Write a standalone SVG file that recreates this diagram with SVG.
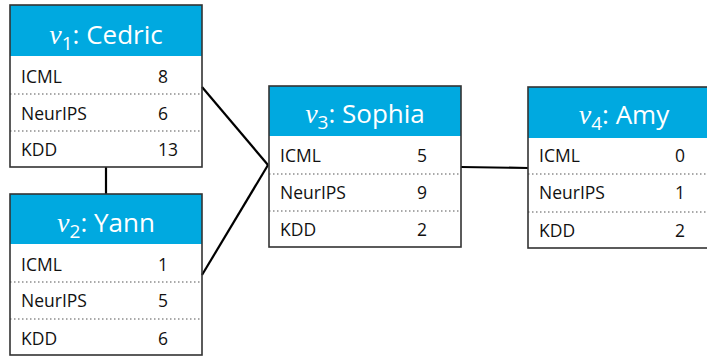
<svg xmlns="http://www.w3.org/2000/svg" width="707" height="356" viewBox="0 0 707 356">
<style>
.hdr{fill:#00A9E0}
.box{fill:none;stroke:#333;stroke-width:1.6}
.div{stroke:#555;stroke-width:1.2;stroke-dasharray:1.5 2.5}
.t{font-family:"Open Sans","Liberation Sans",sans-serif;font-size:17.5px;fill:#111}
.h{font-family:"Open Sans","Liberation Sans",sans-serif;font-size:26px;fill:#fff}
.v{font-family:"Liberation Serif",serif;font-style:italic;font-size:28px}
.edge{stroke:#000;stroke-width:2.2;fill:none}
</style>
<rect width="707" height="356" fill="#fff"/>
<g id="connectors">
<line class="edge" x1="106" y1="167" x2="106" y2="194"/>
<line class="edge" x1="202" y1="87" x2="268" y2="165"/>
<line class="edge" x1="202" y1="275" x2="268" y2="165"/>
<line class="edge" x1="461" y1="167" x2="528" y2="168"/>
</g>
<g id="v1">
<rect class="hdr" x="10" y="5" width="192" height="51"/>
<text class="h" x="106" y="44" text-anchor="middle"><tspan class="v">v</tspan><tspan dy="6" font-size="19">1</tspan><tspan dy="-6">: Cedric</tspan></text>
<line class="div" x1="10" y1="94" x2="202" y2="94"/>
<line class="div" x1="10" y1="131" x2="202" y2="131"/>
<text class="t" x="21" y="83">ICML</text><text class="t" x="158" y="83">8</text>
<text class="t" x="21" y="120">NeurIPS</text><text class="t" x="158" y="120">6</text>
<text class="t" x="21" y="156">KDD</text><text class="t" x="158" y="156">13</text>
<rect class="box" x="10" y="5" width="192" height="162"/>
</g>
<g id="v2">
<rect class="hdr" x="10" y="194" width="192" height="50"/>
<text class="h" x="106" y="232" text-anchor="middle"><tspan class="v">v</tspan><tspan dy="6" font-size="19">2</tspan><tspan dy="-6">: Yann</tspan></text>
<line class="div" x1="10" y1="282" x2="202" y2="282"/>
<line class="div" x1="10" y1="319" x2="202" y2="319"/>
<text class="t" x="21" y="271">ICML</text><text class="t" x="158" y="271">1</text>
<text class="t" x="21" y="307">NeurIPS</text><text class="t" x="158" y="307">5</text>
<text class="t" x="21" y="345">KDD</text><text class="t" x="158" y="345">6</text>
<rect class="box" x="10" y="194" width="192" height="161"/>
</g>
<g id="v3">
<rect class="hdr" x="269" y="86" width="192" height="50"/>
<text class="h" x="365" y="123" text-anchor="middle"><tspan class="v">v</tspan><tspan dy="6" font-size="19">3</tspan><tspan dy="-6">: Sophia</tspan></text>
<line class="div" x1="269" y1="174" x2="461" y2="174"/>
<line class="div" x1="269" y1="211" x2="461" y2="211"/>
<text class="t" x="280" y="162">ICML</text><text class="t" x="417" y="162">5</text>
<text class="t" x="280" y="199">NeurIPS</text><text class="t" x="417" y="199">9</text>
<text class="t" x="280" y="236">KDD</text><text class="t" x="417" y="236">2</text>
<rect class="box" x="269" y="86" width="192" height="161"/>
</g>
<g id="v4">
<rect class="hdr" x="528" y="87" width="192" height="51"/>
<text class="h" x="624" y="124" text-anchor="middle"><tspan class="v">v</tspan><tspan dy="6" font-size="19">4</tspan><tspan dy="-6">: Amy</tspan></text>
<line class="div" x1="528" y1="174" x2="720" y2="174"/>
<line class="div" x1="528" y1="212" x2="720" y2="212"/>
<text class="t" x="539" y="162">ICML</text><text class="t" x="675" y="162">0</text>
<text class="t" x="539" y="199">NeurIPS</text><text class="t" x="675" y="199">1</text>
<text class="t" x="539" y="237">KDD</text><text class="t" x="675" y="237">2</text>
<rect class="box" x="528" y="87" width="192" height="161"/>
</g>
</svg>
